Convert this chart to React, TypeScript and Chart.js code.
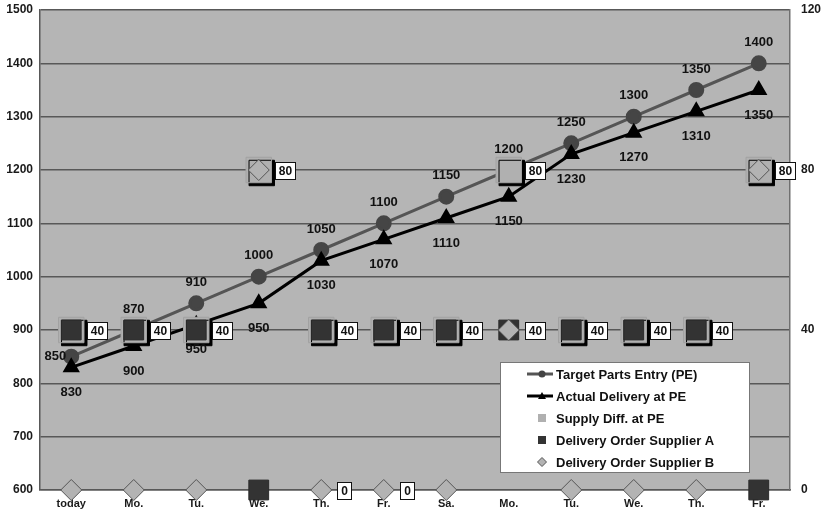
import React, { useEffect, useRef } from 'react';
import { Chart, registerables } from 'chart.js';

Chart.register(...registerables);

// ---------- data ----------
const categories = ['today', 'Mo.', 'Tu.', 'We.', 'Th.', 'Fr.', 'Sa.', 'Mo.', 'Tu.', 'We.', 'Th.', 'Fr.'];
const targetParts = [850, 900, 950, 1000, 1050, 1100, 1150, 1200, 1250, 1300, 1350, 1400];
const actualDelivery = [830, 870, 910, 950, 1030, 1070, 1110, 1150, 1230, 1270, 1310, 1350];
const targetLabels = ['850', '870', '910', '1000', '1050', '1100', '1150', '1200', '1250', '1300', '1350', '1400'];
const actualLabels = ['830', '900', '950', '950', '1030', '1070', '1110', '1150', '1230', '1270', '1310', '1350'];
const supplyDiff = [40, 40, 40, 80, 40, 40, 40, 80, 40, 40, 40, 80];
const supplierA = [40, 40, 40, 0, 40, 40, 40, 40, 40, 40, 40, 0];
const supplierB = [0, 0, 0, 80, 0, 0, 0, 40, 0, 0, 0, 80];
const supplierALabels = [40, 40, 40, null, 40, 40, 40, 40, 40, 40, 40, null];
const supplyDiffLabels = [null, null, null, 80, null, null, null, 80, null, null, null, 80];
const supplierBLabels = [null, null, null, null, 0, 0, null, null, null, null, null, null];
const leftAxis = { min: 600, max: 1500, step: 100 };
const rightAxis = { min: 0, max: 120, step: 40 };
const legendItems = [
  'Target Parts Entry (PE)',
  'Actual Delivery at PE',
  'Supply Diff. at PE',
  'Delivery Order Supplier A',
  'Delivery Order Supplier B',
];

const FONT = '"Liberation Sans", Arial, Helvetica, sans-serif';
const PLOT_BG = '#b5b5b5';
const GRID = '#585858';
const TARGET_COLOR = '#555555';
const ACTUAL_COLOR = '#000000';
const DIFF_COLOR = '#b0b0b0';
const A_COLOR = '#333333';
const B_COLOR = '#b3b3b3';

function drawBox(ctx: CanvasRenderingContext2D, text: string, left: number, cy: number) {
  ctx.font = `bold 12px ${FONT}`;
  const w = Math.round(ctx.measureText(text).width) + 7;
  const h = 17;
  const x = Math.round(left) + 0.5;
  const y = Math.round(cy - h / 2) + 0.5;
  ctx.fillStyle = '#ffffff';
  ctx.fillRect(x, y, w, h);
  ctx.strokeStyle = '#111';
  ctx.lineWidth = 1;
  ctx.strokeRect(x, y, w, h);
  ctx.fillStyle = '#111';
  ctx.textAlign = 'center';
  ctx.textBaseline = 'middle';
  ctx.fillText(text, x + w / 2, y + h / 2 + 1);
}

const customPlugin = {
  id: 'customDecor',
  beforeDraw(chart: any) {
    const { ctx, chartArea: a } = chart;
    ctx.save();
    ctx.fillStyle = PLOT_BG;
    ctx.fillRect(a.left, a.top, a.right - a.left, a.bottom - a.top);
    ctx.restore();
  },
  beforeDatasetDraw(chart: any, args: any) {
    if (args.index === 2) {
      const ctx = chart.ctx;
      ctx.save();
      ctx.shadowColor = '#000';
      ctx.shadowOffsetX = 3;
      ctx.shadowOffsetY = 3;
      ctx.shadowBlur = 0;
    }
  },
  afterDatasetDraw(chart: any, args: any) {
    if (args.index === 2) chart.ctx.restore();
  },
  afterDatasetsDraw(chart: any) {
    const ctx: CanvasRenderingContext2D = chart.ctx;
    const xs = chart.scales.x;
    const y1 = chart.scales.y1;
    ctx.save();
    // line value labels
    ctx.font = `bold 13px ${FONT}`;
    ctx.fillStyle = '#111';
    ctx.textBaseline = 'middle';
    const tMeta = chart.getDatasetMeta(0);
    const aMeta = chart.getDatasetMeta(1);
    targetLabels.forEach((lab, i) => {
      const p = tMeta.data[i];
      if (i === 0) {
        ctx.textAlign = 'right';
        ctx.fillText(lab, p.x - 5, p.y);
      } else {
        ctx.textAlign = 'center';
        ctx.fillText(lab, p.x, p.y - 21);
      }
    });
    actualLabels.forEach((lab, i) => {
      const p = aMeta.data[i];
      ctx.textAlign = 'center';
      ctx.fillText(lab, p.x, p.y + 25);
    });
    // boxed value labels
    const boxes = (arr: (number | null)[]) => {
      arr.forEach((v, i) => {
        if (v === null || v === undefined) return;
        const x = xs.getPixelForValue(i);
        const y = y1.getPixelForValue(v);
        drawBox(ctx, String(v), x + 16, y);
      });
    };
    boxes(supplierALabels);
    boxes(supplyDiffLabels);
    boxes(supplierBLabels);
    ctx.restore();
  },
  afterDraw(chart: any) {
    const ctx: CanvasRenderingContext2D = chart.ctx;
    const a = chart.chartArea;
    const lx = a.left + 460;
    const ly = a.top + 352;
    const lw = 249;
    const lh = 110;
    ctx.save();
    ctx.fillStyle = '#ffffff';
    ctx.fillRect(lx, ly, lw, lh);
    ctx.strokeStyle = '#777';
    ctx.lineWidth = 1;
    ctx.strokeRect(lx + 0.5, ly + 0.5, lw, lh);
    const sx0 = lx + 27;
    const sx1 = lx + 53;
    const mx = lx + 42;
    legendItems.forEach((text, i) => {
      const cy = ly + 12 + i * 22;
      if (i === 0) {
        ctx.strokeStyle = TARGET_COLOR;
        ctx.lineWidth = 3;
        ctx.beginPath();
        ctx.moveTo(sx0, cy);
        ctx.lineTo(sx1, cy);
        ctx.stroke();
        ctx.fillStyle = '#444';
        ctx.beginPath();
        ctx.arc(mx, cy, 3.5, 0, Math.PI * 2);
        ctx.fill();
      } else if (i === 1) {
        ctx.strokeStyle = ACTUAL_COLOR;
        ctx.lineWidth = 3;
        ctx.beginPath();
        ctx.moveTo(sx0, cy);
        ctx.lineTo(sx1, cy);
        ctx.stroke();
        ctx.fillStyle = '#000';
        ctx.beginPath();
        ctx.moveTo(mx, cy - 4);
        ctx.lineTo(mx + 4, cy + 3);
        ctx.lineTo(mx - 4, cy + 3);
        ctx.closePath();
        ctx.fill();
      } else if (i === 2) {
        ctx.fillStyle = DIFF_COLOR;
        ctx.fillRect(mx - 4, cy - 4, 8, 8);
      } else if (i === 3) {
        ctx.fillStyle = A_COLOR;
        ctx.fillRect(mx - 4, cy - 4, 8, 8);
      } else {
        ctx.fillStyle = B_COLOR;
        ctx.strokeStyle = '#555';
        ctx.lineWidth = 1;
        ctx.beginPath();
        ctx.moveTo(mx, cy - 4.5);
        ctx.lineTo(mx + 4.5, cy);
        ctx.lineTo(mx, cy + 4.5);
        ctx.lineTo(mx - 4.5, cy);
        ctx.closePath();
        ctx.fill();
        ctx.stroke();
      }
      ctx.fillStyle = '#111';
      ctx.font = `bold 13px ${FONT}`;
      ctx.textAlign = 'left';
      ctx.textBaseline = 'middle';
      ctx.fillText(text, lx + 56, cy + 1);
    });
    ctx.restore();
  },
};

export default function App() {
  const canvasRef = useRef<HTMLCanvasElement | null>(null);

  useEffect(() => {
    document.body.style.margin = '0';
    const canvas = canvasRef.current;
    if (!canvas) return;
    const tickFont = { family: FONT, size: 12, weight: 'bold' as const };
    const plain = (v: any) => String(v);
    const chart = new Chart(canvas, {
      type: 'line',
      data: {
        labels: categories,
        datasets: [
          {
            label: legendItems[0],
            data: targetParts,
            yAxisID: 'y',
            borderColor: TARGET_COLOR,
            borderWidth: 3,
            backgroundColor: '#444',
            pointStyle: 'circle',
            pointRadius: 6.5,
            pointBackgroundColor: '#454545',
            pointBorderColor: '#454545',
            tension: 0,
            order: 10,
          },
          {
            label: legendItems[1],
            data: actualDelivery,
            yAxisID: 'y',
            borderColor: ACTUAL_COLOR,
            borderWidth: 3,
            backgroundColor: '#000',
            pointStyle: 'triangle',
            pointRadius: 7,
            pointBackgroundColor: '#000',
            pointBorderColor: '#000',
            tension: 0,
            order: 9,
          },
          {
            label: legendItems[2],
            data: supplyDiff,
            yAxisID: 'y1',
            showLine: false,
            pointStyle: 'rect',
            pointRadius: 18,
            pointBackgroundColor: DIFF_COLOR,
            pointBorderColor: '#a2a2a2',
            pointBorderWidth: 1,
            clip: false,
            order: 3,
          },
          {
            label: legendItems[3],
            data: supplierA,
            yAxisID: 'y1',
            showLine: false,
            pointStyle: 'rect',
            pointRadius: 14,
            pointBackgroundColor: A_COLOR,
            pointBorderColor: '#2a2a2a',
            pointBorderWidth: 1,
            clip: false,
            order: 2,
          },
          {
            label: legendItems[4],
            data: supplierB,
            yAxisID: 'y1',
            showLine: false,
            pointStyle: 'rectRot',
            pointRadius: 10.5,
            pointBackgroundColor: B_COLOR,
            pointBorderColor: '#555',
            pointBorderWidth: 1,
            clip: false,
            order: 1,
          },
        ],
      },
      options: {
        responsive: false,
        animation: false,
        devicePixelRatio: 1,
        layout: { autoPadding: false, padding: { top: 10, left: 0, right: 0, bottom: 0 } },
        plugins: {
          legend: { display: false },
          tooltip: { enabled: false },
        },
        scales: {
          x: {
            type: 'category',
            offset: true,
            z: 1,
            grid: { display: false, drawTicks: false, offset: true },
            border: { display: true, color: GRID, width: 1.5 },
            ticks: { font: { family: FONT, size: 11, weight: 'bold' }, color: '#1a1a1a', padding: 7, maxRotation: 0, autoSkip: false },
            afterFit: (s: any) => { s.height = 24; s.paddingLeft = 0; s.paddingRight = 0; },
          },
          y: {
            position: 'left',
            min: leftAxis.min,
            max: leftAxis.max,
            ticks: { stepSize: leftAxis.step, font: tickFont, color: '#1a1a1a', padding: 7, callback: plain },
            grid: { color: GRID, lineWidth: 1.5, drawTicks: false },
            border: { display: true, color: GRID, width: 1.5 },
            afterFit: (s: any) => { s.width = 40; s.paddingTop = 0; s.paddingBottom = 0; },
          },
          y1: {
            position: 'right',
            min: rightAxis.min,
            max: rightAxis.max,
            ticks: { stepSize: rightAxis.step, font: tickFont, color: '#1a1a1a', padding: 11, callback: plain },
            grid: { display: false, drawTicks: false },
            border: { display: true, color: '#707070', width: 1.5 },
            afterFit: (s: any) => { s.width = 32; s.paddingTop = 0; s.paddingBottom = 0; },
          },
        },
      },
      plugins: [customPlugin],
    });
    return () => chart.destroy();
  }, []);

  return (
    <div style={{ width: 822, height: 514 }}>
      <canvas ref={canvasRef} width={822} height={514} style={{ display: 'block' }} />
    </div>
  );
}
